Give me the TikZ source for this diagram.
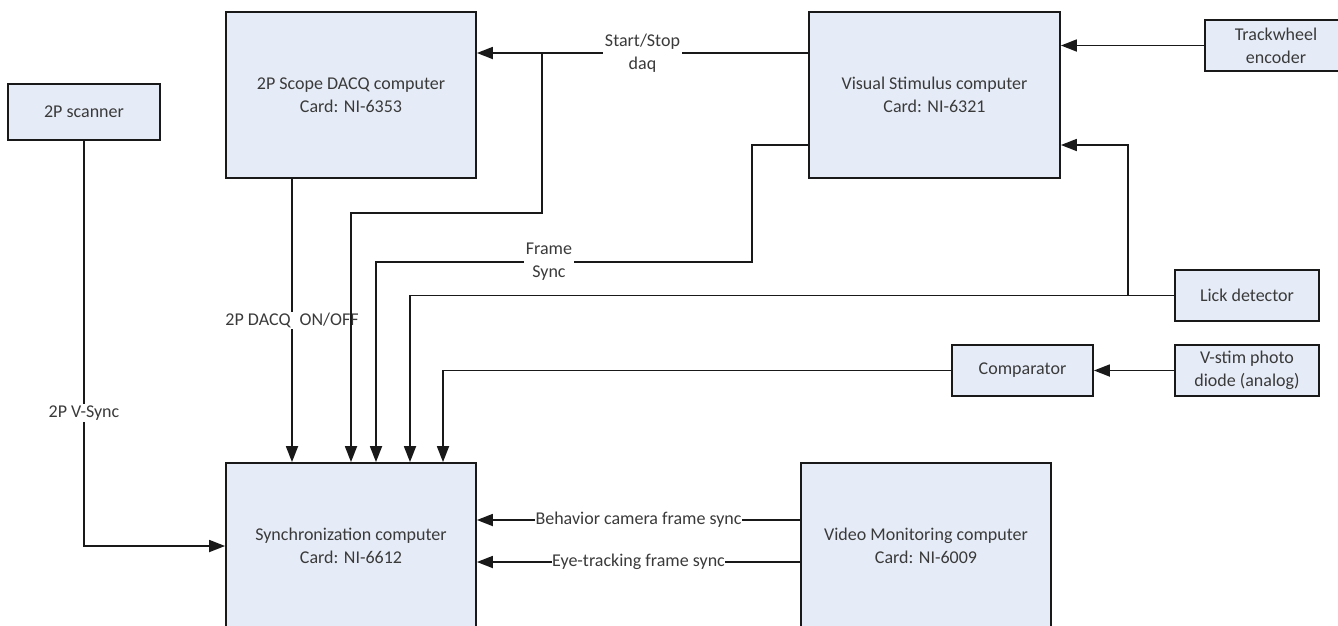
\documentclass[tikz,border=0pt]{standalone}
\usepackage{fontspec}
\setmainfont{Carlito}
\usetikzlibrary{arrows.meta}
\definecolor{boxfill}{RGB}{230,236,247}
\definecolor{txt}{RGB}{58,58,58}
\tikzset{
  blk/.style={draw=black!90, fill=boxfill, line width=1.8pt, align=center, text=txt,
    font=\fontsize{18}{23}\selectfont, inner sep=0pt},
  lab/.style={fill=white, inner sep=1.5pt, align=center, text=txt,
    font=\fontsize{18}{23}\selectfont},
  conn/.style={line width=1.8pt, draw=black!90},
  arr/.style={conn, -{Triangle[length=16pt,width=12pt]}}
}
\begin{document}
\begin{tikzpicture}[x=1pt,y=-1pt]
\useasboundingbox (0,0) rectangle (1338,625);
\clip (0,0) rectangle (1338,625);
\fill[white] (0,0) rectangle (1338,625);
% boxes
\node[blk, minimum width=152pt, minimum height=56pt] (scanner) at (84,112) {2P scanner};
\node[blk, minimum width=250pt, minimum height=166pt] (dacq) at (351,95) {2P Scope DACQ computer\\Card: NI-6353};
\node[blk, minimum width=251pt, minimum height=166pt] (vis) at (934.5,95) {Visual Stimulus computer\\Card: NI-6321};
\node[blk, minimum width=142pt, minimum height=51pt] (track) at (1276,45.5) {Trackwheel\\encoder};
\node[blk, minimum width=144pt, minimum height=51pt] (lick) at (1247,295.5) {Lick detector};
\node[blk, minimum width=141pt, minimum height=51pt] (comp) at (1022.5,370.5) {Comparator};
\node[blk, minimum width=144pt, minimum height=51pt] (vstim) at (1247,370.5) {V-stim photo\\diode (analog)};
\node[blk, minimum width=250pt, minimum height=166pt] (sync) at (351,546) {Synchronization computer\\Card: NI-6612};
\node[blk, minimum width=250pt, minimum height=166pt] (video) at (926,546) {Video Monitoring computer\\Card: NI-6009};
% helper coordinates
\coordinate (ss) at (0,53);
\coordinate (fs) at (0,145);
\coordinate (x292) at (292,0);
\coordinate (j1) at (542,53);
\coordinate (c351) at (351,213);
\coordinate (fs1) at (752,262);
\coordinate (fs2) at (376,262);
\coordinate (lk) at (410,295.5);
\coordinate (lj) at (1128,295.5);
\coordinate (c443) at (443,0);
\coordinate (bc) at (0,520);
\coordinate (et) at (0,562);
% connectors
\draw[arr] (scanner.south) |- node[lab, pos=0.336] (lvs) {2P V-Sync} (sync.west);
\draw[arr] (dacq.south -| x292) -- node[lab, pos=0.5] (ldacq) {2P DACQ\enspace ON/OFF} (sync.north -| x292);
\draw[arr] (vis.west |- ss) -- node[lab, pos=0.5] (lss) {Start/Stop\\daq} (dacq.east |- ss);
\draw[arr] (j1) |- (c351) -- (sync.north -| c351);
\draw[arr] (vis.west |- fs) -| (fs1) -- node[lab, pos=0.54] (lfs) {Frame\\Sync} (fs2) -- (sync.north -| fs2);
\draw[arr] (lick.west) -- (lk) -- (sync.north -| lk);
\draw[arr] (lj) |- (vis.east |- fs);
\draw[arr] (track.west) -- (vis.east |- track.west);
\draw[arr] (vstim.west) -- (comp.east);
\draw[arr] (comp.west) -| (sync.north -| c443);
\draw[arr] (video.west |- bc) -- node[lab, inner sep=0.5pt] (lbc) {Behavior camera frame sync} (sync.east |- bc);
\draw[arr] (video.west |- et) -- node[lab, inner sep=0.5pt] (let) {Eye-tracking frame sync} (sync.east |- et);
\end{tikzpicture}
\end{document}
